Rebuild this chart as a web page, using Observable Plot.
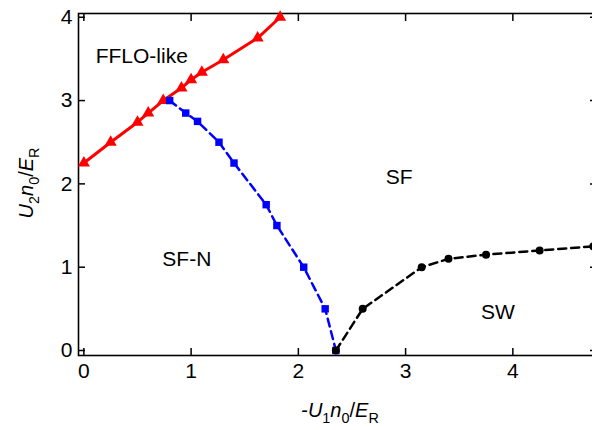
<!DOCTYPE html>
<html><head><meta charset="utf-8">
<script src="https://cdn.jsdelivr.net/npm/d3@7"></script>
<script src="https://cdn.jsdelivr.net/npm/@observablehq/plot@0.6"></script>
<style>
body{margin:0;background:#fff}
svg{font-family:"Liberation Sans",Arial,Helvetica,sans-serif}
</style>
</head><body><div id="chart"></div>
<script>
// FFLO-like / SF boundary (red triangles, solid)
const ffloX = [0, 0.25, 0.5, 0.6, 0.74, 0.91, 1.0, 1.1, 1.3, 1.62, 1.83];
const ffloY = [2.25, 2.5, 2.74, 2.85, 3.0, 3.15, 3.25, 3.34, 3.49, 3.75, 4.0];
// SF-N / SF boundary (blue squares, dashed)
const sfnX = [0.8, 0.95, 1.06, 1.26, 1.4, 1.7, 1.8, 2.05, 2.25, 2.35];
const sfnY = [3.0, 2.85, 2.75, 2.5, 2.25, 1.75, 1.5, 1.0, 0.5, 0.0];
// SW / SF boundary (black circles, dashed)
const swX = [2.35, 2.6, 3.15, 3.4, 3.75, 4.25, 4.75];
const swY = [0.0, 0.5, 1.0, 1.1, 1.15, 1.2, 1.25];
// ticks
const xTicks = [0, 1, 2, 3, 4];
const yTicks = [0, 1, 2, 3, 4];
// region names
const regionNames = ["FFLO-like", "SF", "SF-N", "SW"];
const regionX = [0.54, 2.94, 0.96, 3.86];
const regionY = [3.53, 2.08, 1.10, 0.46];

const idx = a => d3.range(a.length);
const FONT = '"Liberation Sans",Arial,Helvetica,sans-serif';

const fig = Plot.plot({
  width: 592, height: 430,
  marginLeft: 78, marginRight: -4, marginTop: 13, marginBottom: 75,
  style: {fontFamily: FONT, fontSize: "21px", background: "white", color: "black", overflow: "hidden"},
  x: {domain: [-0.05, 4.78], label: null},
  y: {domain: [-0.06, 4.045], label: null},
  marks: [
    Plot.frame({stroke: "black", strokeWidth: 1.6}),
    Plot.axisX(xTicks, {anchor: "bottom", tickSize: -7, tickPadding: 15, tickFormat: d3.format("d"), strokeWidth: 1.5, label: null}),
    Plot.axisX(xTicks, {anchor: "top", tickSize: -7, tickFormat: () => "", strokeWidth: 1.5, label: null}),
    Plot.axisY(yTicks, {anchor: "left", tickSize: -7, tickPadding: 13, tickFormat: d3.format("d"), strokeWidth: 1.5, label: null}),
    Plot.axisY(yTicks, {anchor: "right", tickSize: -7, tickFormat: () => "", strokeWidth: 1.5, label: null}),
    Plot.line(idx(ffloX), {x: i => ffloX[i], y: i => ffloY[i], stroke: "#ff0000", strokeWidth: 3}),
    Plot.dot(idx(ffloX), {x: i => ffloX[i], y: i => ffloY[i], symbol: "triangle", r: 4.5, fill: "#ff0000"}),
    Plot.line(idx(sfnX), {x: i => sfnX[i], y: i => sfnY[i], stroke: "#0000ff", strokeWidth: 2.5, strokeDasharray: "8,5"}),
    Plot.dot(idx(sfnX), {x: i => sfnX[i], y: i => sfnY[i], symbol: "square", r: 4.2, fill: "#0000ff"}),
    Plot.line(idx(swX), {x: i => swX[i], y: i => swY[i], stroke: "black", strokeWidth: 2.5, strokeDasharray: "8,5"}),
    Plot.dot(idx(swX), {x: i => swX[i], y: i => swY[i], r: 4, fill: "black"}),
    Plot.text(idx(regionNames), {x: i => regionX[i], y: i => regionY[i], text: i => regionNames[i], fontSize: 21, fill: "black"})
  ]
});
document.getElementById("chart").append(fig);

function richLabel(parent, parts, size) {
  const subSize = size * 0.72, shift = size * 0.3;
  let down = false;
  for (const [txt, kind] of parts) {
    const t = parent.append("tspan").text(txt);
    if (kind === "s") {
      t.attr("font-size", subSize).attr("dy", down ? 0 : shift);
      down = true;
    } else {
      if (down) t.attr("dy", -shift);
      down = false;
      if (kind === "i") t.attr("font-style", "italic");
    }
  }
}
const svg = d3.select(fig);
const xl = svg.append("text").attr("x", 340).attr("y", 417).attr("text-anchor", "middle")
  .attr("font-size", 20).attr("font-family", FONT).attr("fill", "black");
richLabel(xl, [["-", "r"], ["U", "i"], ["1", "s"], ["n", "i"], ["0", "s"], ["/", "r"], ["E", "i"], ["R", "s"]], 20);
const yl = svg.append("text").attr("transform", "translate(33,183) rotate(-90)").attr("text-anchor", "middle")
  .attr("font-size", 20).attr("font-family", FONT).attr("fill", "black");
richLabel(yl, [["U", "i"], ["2", "s"], ["n", "i"], ["0", "s"], ["/", "r"], ["E", "i"], ["R", "s"]], 20);
</script>
</body></html>
